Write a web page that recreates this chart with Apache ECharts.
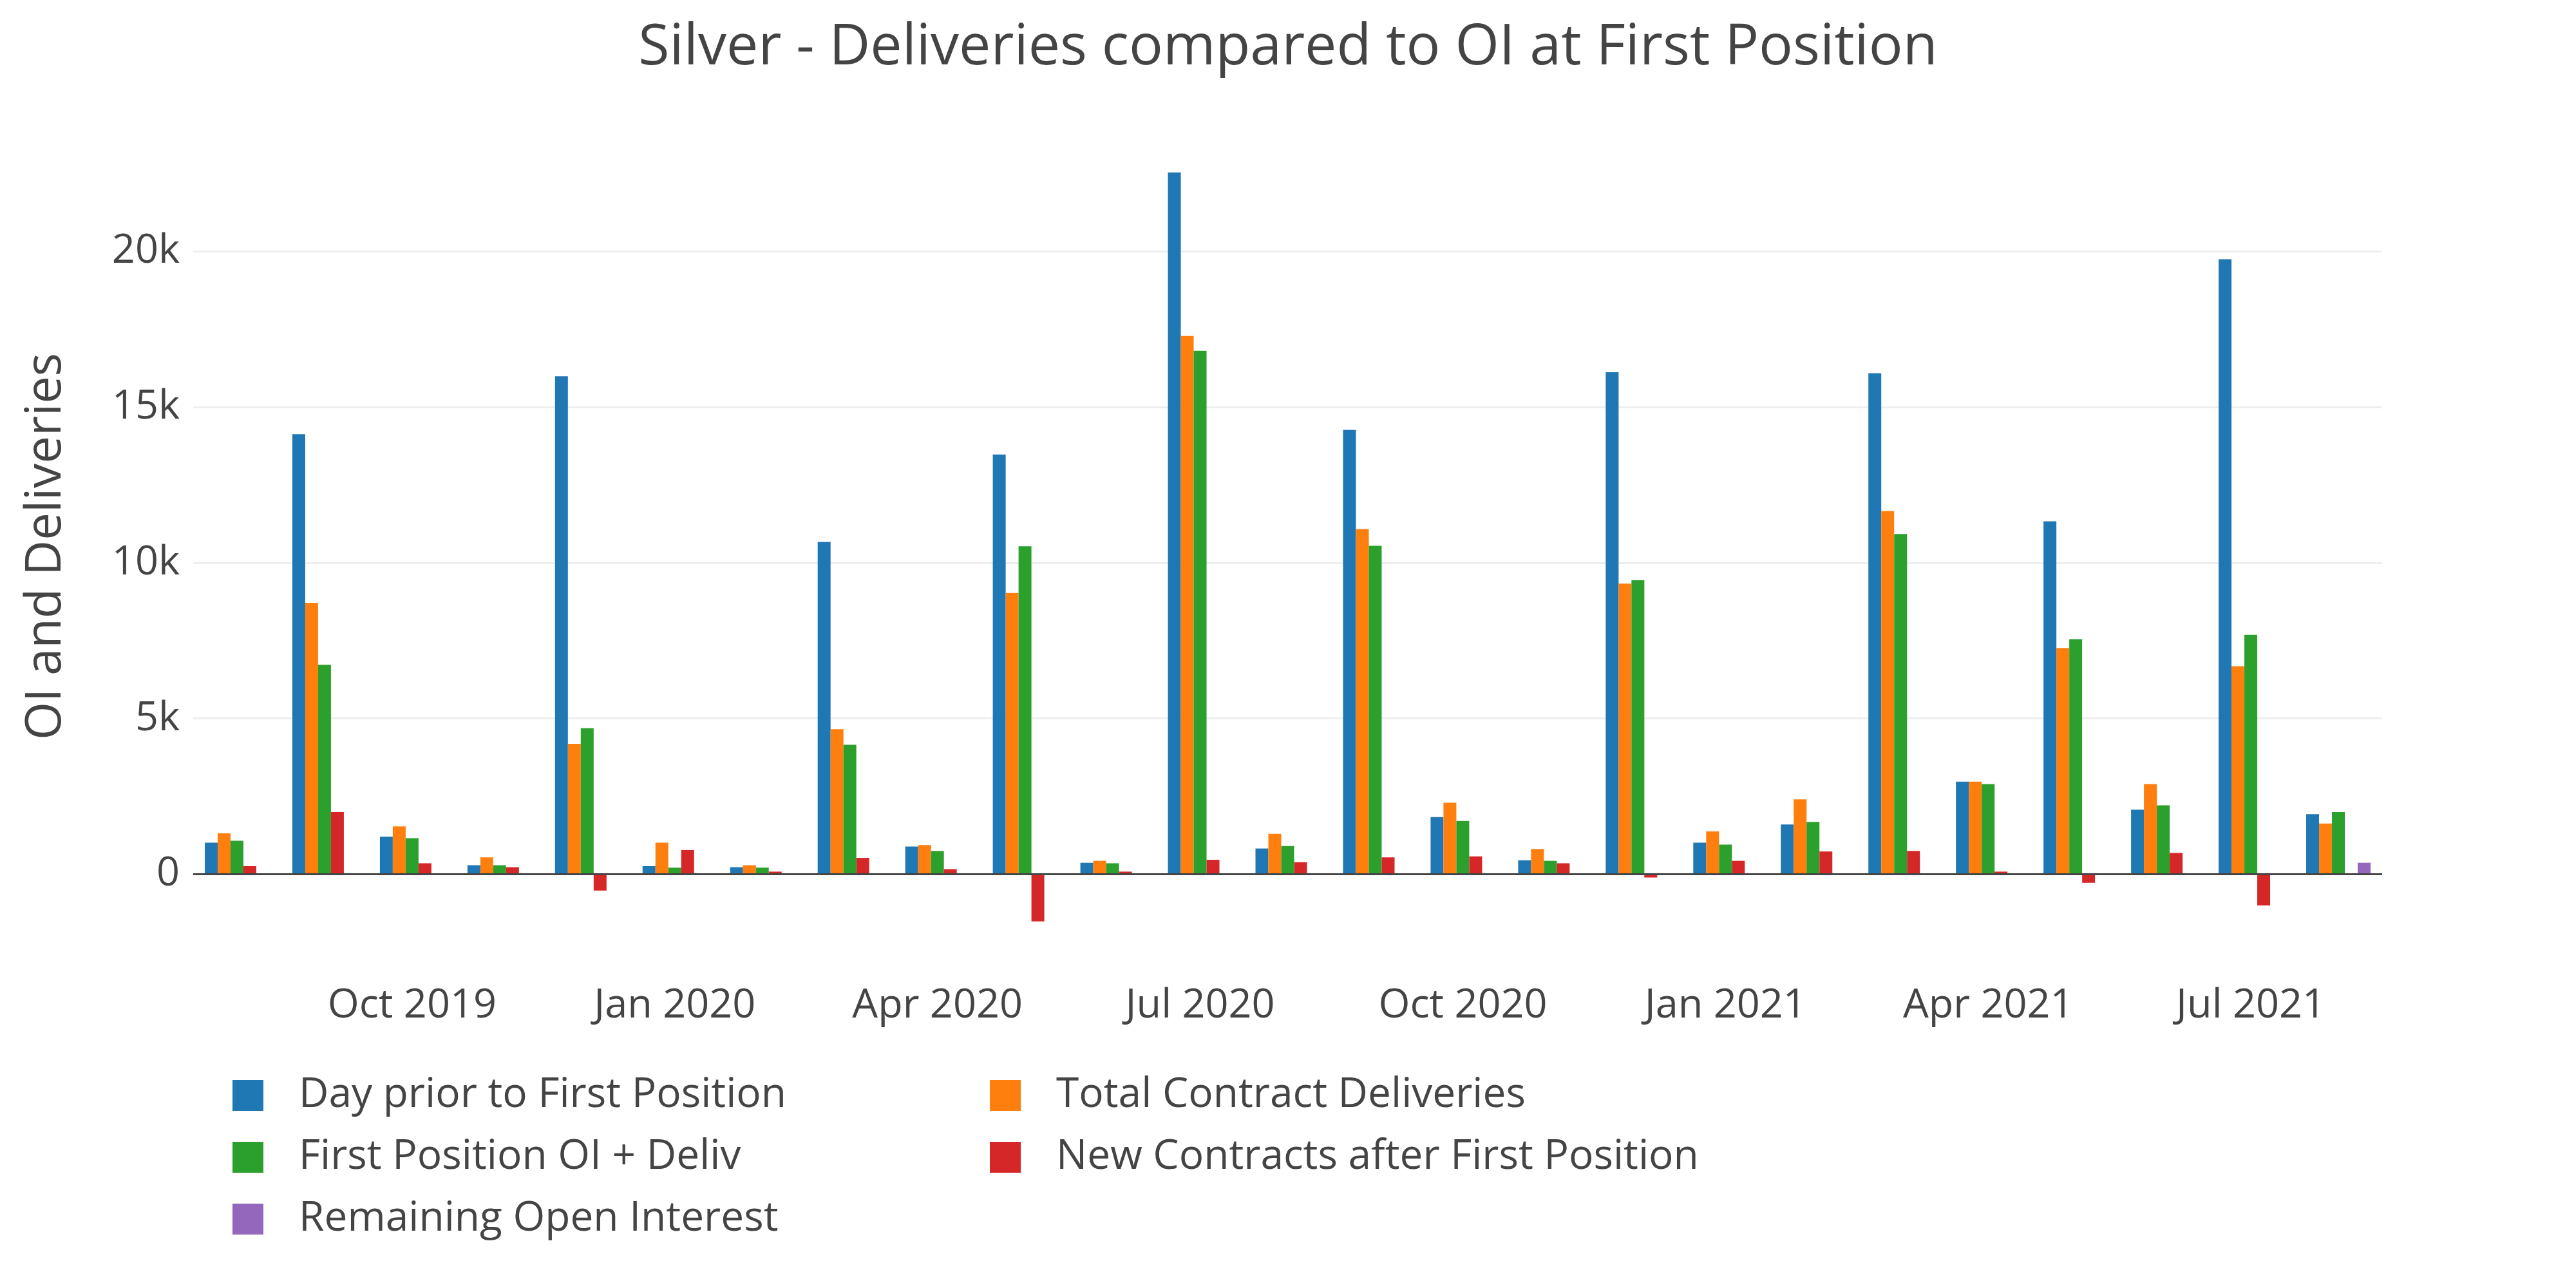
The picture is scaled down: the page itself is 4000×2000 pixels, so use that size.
<!DOCTYPE html>
<html>
<head>
<meta charset="utf-8">
<script src="https://cdn.jsdelivr.net/npm/echarts@6/dist/echarts.min.js"></script>
<style>
html,body{margin:0;padding:0;background:#fff;}
#chart{width:4000px;height:2000px;}
</style>
</head>
<body>
<div id="chart"></div>
<script>
const months = ['2019-08','2019-09','2019-10','2019-11','2019-12','2020-01','2020-02','2020-03','2020-04','2020-05','2020-06','2020-07','2020-08','2020-09','2020-10','2020-11','2020-12','2021-01','2021-02','2021-03','2021-04','2021-05','2021-06','2021-07','2021-08'];
const dayPrior = [1010, 14130, 1200, 284, 15990, 253, 221, 10670, 884, 13480, 363, 22540, 821, 14270, 1831, 442, 16120, 1010, 1594, 16090, 2968, 11330, 2068, 19750, 1926];
const totalDeliv = [1310, 8713, 1531, 537, 4183, 1010, 284, 4657, 931, 9029, 426, 17285, 1294, 11081, 2289, 805, 9329, 1373, 2399, 11665, 2968, 7261, 2889, 6677, 1626];
const firstPosOI = [1073, 6724, 1152, 284, 4688, 205, 205, 4151, 742, 10529, 347, 16811, 900, 10544, 1705, 426, 9439, 947, 1673, 10923, 2889, 7545, 2210, 7687, 1989];
const newContracts = [253, 1989, 347, 221, -530, 773, 79, 521, 158, -1520, 79, 458, 379, 537, 568, 347, -110, 426, 726, 742, 79, -280, 679, -1010, null];
const remainingOI = [null, null, null, null, null, null, null, null, null, null, null, null, null, null, null, null, null, null, null, null, null, null, null, null, 363];
const seriesNames = ['Day prior to First Position','Total Contract Deliveries','First Position OI + Deliv','New Contracts after First Position','Remaining Open Interest'];
const colors = ['#1f77b4','#ff7f0e','#2ca02c','#d62728','#9467bd'];
const monthNames = ['Jan','Feb','Mar','Apr','May','Jun','Jul','Aug','Sep','Oct','Nov','Dec'];

const FONT = '"Open Sans", sans-serif';
const chart = echarts.init(document.getElementById('chart'), null, {renderer:'canvas'});
const dataSets = [dayPrior, totalDeliv, firstPosOI, newContracts, remainingOI];

const series = dataSets.map((d, i) => ({
  name: seriesNames[i],
  type: 'bar',
  data: d,
  barWidth: 20,
  barGap: '0%',
  itemStyle: {color: colors[i]},
  emphasis: {disabled: true},
  markLine: i === 0 ? {
    silent: true,
    symbol: 'none',
    label: {show: false},
    lineStyle: {color: '#444', width: 3, type: 'solid'},
    data: [{yAxis: 0}]
  } : undefined
}));

const legendText = {fontFamily: FONT, fontSize: 64, color: '#444', padding: [0,0,0,50]};
chart.setOption({
  animation: false,
  backgroundColor: '#fff',
  color: colors,
  title: {
    text: 'Silver - Deliveries compared to OI at First Position',
    left: 'center',
    top: 26,
    textStyle: {fontFamily: FONT, fontSize: 88, fontWeight: 'normal', color: '#444'}
  },
  legend: [
    {
      orient: 'vertical', left: 356, top: 1664,
      icon: 'rect', itemWidth: 48, itemHeight: 48, itemGap: 32,
      data: [seriesNames[0], seriesNames[2], seriesNames[4]],
      textStyle: legendText, selectedMode: false
    },
    {
      orient: 'vertical', left: 1532, top: 1664,
      icon: 'rect', itemWidth: 48, itemHeight: 48, itemGap: 32,
      data: [seriesNames[1], seriesNames[3]],
      textStyle: legendText, selectedMode: false
    }
  ],
  grid: {left: 300, right: 301, top: 202, bottom: 505, containLabel: false},
  xAxis: {
    type: 'category',
    data: months,
    axisLine: {show: false, onZero: false},
    axisTick: {show: false},
    splitLine: {show: false},
    axisLabel: {
      interval: 0,
      margin: 36,
      fontFamily: FONT, fontSize: 63, color: '#444',
      formatter: function (v) {
        const parts = v.split('-');
        const m = parseInt(parts[1], 10);
        if (m === 1 || m === 4 || m === 7 || m === 10) return monthNames[m-1] + ' ' + parts[0];
        return '';
      }
    }
  },
  yAxis: {
    type: 'value',
    min: -2850,
    max: 23900,
    splitNumber: 5,
    name: 'OI and Deliveries',
    nameLocation: 'middle',
    nameGap: 190,
    nameTextStyle: {fontFamily: FONT, fontSize: 76, color: '#444'},
    axisLine: {show: false},
    axisTick: {show: false},
    splitLine: {show: true, showMinLine: false, showMaxLine: false, lineStyle: {color: '#eeeeee', width: 3}},
    axisLabel: {
      showMinLabel: false, showMaxLabel: false,
      margin: 21,
      fontFamily: FONT, fontSize: 63, color: '#444',
      formatter: function (v) { return v === 0 ? '0' : (v / 1000) + 'k'; }
    }
  },
  series: series
});
</script>
</body>
</html>
